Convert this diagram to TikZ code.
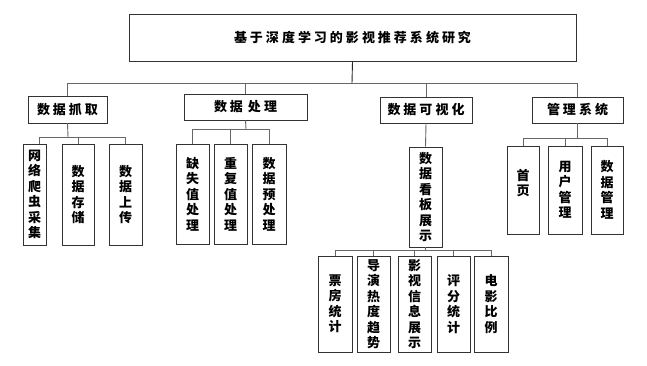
\documentclass[tikz,border=0pt]{standalone}
\usepackage{fontspec}
\newfontfamily\cjk{Noto Sans CJK SC}
\newcommand\gp{\hspace{3pt}}
\begin{document}
\begin{tikzpicture}[x=1pt,y=-1pt,
  box/.style={draw=black!80, line width=0.9pt, fill=white, inner sep=0pt, align=center,
    font=\cjk\bfseries\fontsize{13}{15.5}\selectfont},
  link/.style={draw=black!60, line width=0.9pt}]
\useasboundingbox[fill=white] (0,0) rectangle (647,366);
% title
\node[box, minimum width=447pt, minimum height=47pt] (T) at (352.5,37.5)
  {基\gp{}于\gp{}深\gp{}度\gp{}学\gp{}习\gp{}的\gp{}影\gp{}视\gp{}推\gp{}荐\gp{}系\gp{}统\gp{}研\gp{}究};
% level 2
\node[box, minimum width=79pt, minimum height=27pt] (A) at (67.5,109.5) {数\gp{}据\gp{}抓\gp{}取};
\node[box, minimum width=123pt, minimum height=26pt] (B) at (245.5,107) {数\gp{}据\gp{}\hspace{2pt}处\gp{}理};
\node[box, minimum width=92pt, minimum height=26pt] (C) at (426,110) {数\gp{}据\gp{}可\gp{}视\gp{}化};
\node[box, minimum width=91pt, minimum height=26pt] (D) at (577.5,110) {管\gp{}理\gp{}系\gp{}统};
\coordinate (jT) at (352,83);
\draw[link, draw=black!85] (T.south) -- (jT);
\foreach \n in {A,B,C,D} \draw[link] (\n.north) |- (jT);
% level 3 under A
\node[box, minimum width=23pt, minimum height=101pt] (A1) at (34.5,194.5) {网\\络\\爬\\虫\\采\\集};
\node[box, minimum width=32pt, minimum height=101pt] (A2) at (78,194.5) {数\\据\\存\\储};
\node[box, minimum width=33pt, minimum height=101pt] (A3) at (125.5,194.5) {数\\据\\上\\传};
\coordinate (jA) at (68,137);
\draw[link] (A.south) -- (jA);
\draw[link] ([xshift=4.5pt]A1.north) |- (jA);
\draw[link] (A2.north) |- (jA);
\draw[link] (A3.north) |- (jA);
% level 3 under B
\node[box, minimum width=33pt, minimum height=100pt] (B1) at (192.5,194) {缺\\失\\值\\处\\理};
\node[box, minimum width=33pt, minimum height=100pt] (B2) at (230.5,194) {重\\复\\值\\处\\理};
\node[box, minimum width=34pt, minimum height=100pt] (B3) at (269,194) {数\\据\\预\\处\\理};
\coordinate (jB) at (246,129);
\draw[link] (B.south) -- (jB);
\foreach \n in {B1,B2,B3} \draw[link] (\n.north) |- (jB);
% level 3 under C
\node[box, minimum width=33pt, minimum height=100pt] (C1) at (425.5,197) {数\\据\\看\\板\\展\\示};
\draw[link] (C.south) -- (C1.north);
% level 4 under C1
\node[box, minimum width=34pt, minimum height=96pt] (C11) at (335,304) {票\\房\\统\\计};
\node[box, minimum width=33pt, minimum height=96pt] (C12) at (373.5,304) {导\\演\\热\\度\\趋\\势};
\node[box, minimum width=33pt, minimum height=96pt] (C13) at (414.5,304) {影\\视\\信\\息\\展\\示};
\node[box, minimum width=33pt, minimum height=96pt] (C14) at (453.5,304) {评\\分\\统\\计};
\node[box, minimum width=34pt, minimum height=96pt] (C15) at (491,304) {电\\影\\比\\例};
\coordinate (jC) at (425.5,250.5);
\draw[link] (C1.south) -- (jC);
\foreach \n in {C11,C12,C13,C14,C15} \draw[link] (\n.north) |- (jC);
% level 3 under D
\node[box, minimum width=32pt, minimum height=88pt] (D1) at (523,190) {首\\页\\\mbox{}};
\node[box, minimum width=34pt, minimum height=88pt] (D2) at (565,190) {用\\户\\管\\理};
\node[box, minimum width=32pt, minimum height=88pt] (D3) at (607,190) {数\\据\\管\\理};
\coordinate (jD) at (577.5,138);
\draw[link] (D.south) -- (jD);
\foreach \n in {D1,D2,D3} \draw[link] (\n.north) |- (jD);
\end{tikzpicture}
\end{document}
